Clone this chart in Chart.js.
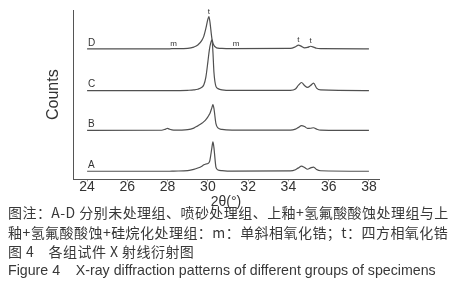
<!DOCTYPE html>
<html>
<head>
<meta charset="utf-8">
<script src="https://cdn.jsdelivr.net/npm/chart.js@4.4.1/dist/chart.umd.min.js"></script>
<style>
  html, body { margin: 0; padding: 0; background: #fff; }
  #wrap { position: relative; width: 456px; height: 300px; overflow: hidden; }
  #chart { position: absolute; left: 0; top: 0; }
  .cap { position: absolute; left: 8px; white-space: nowrap; color: #383838;
         font-family: "Noto Sans CJK SC", "Liberation Sans", sans-serif; font-size: 14px; line-height: 19px;
         letter-spacing: 0.45px; }
  .en { font-family: "Liberation Sans", Arial, sans-serif; font-size: 14.2px; letter-spacing: 0; }
</style>
</head>
<body>
<div id="wrap">
  <canvas id="chart" width="456" height="211"></canvas>
  <div class="cap" style="top:203px">图注：A-D 分别未处理组、喷砂处理组、上釉+氢氟酸酸蚀处理组与上</div>
  <div class="cap" style="top:223px">釉+氢氟酸酸蚀+硅烷化处理组：m：单斜相氧化锆；t：四方相氧化锆</div>
  <div class="cap" style="top:242px">图 4&nbsp;&nbsp;&nbsp;&nbsp;各组试件 X 射线衍射图</div>
  <div class="cap en" style="top:261px">Figure 4&nbsp;&nbsp;&nbsp;&nbsp;X-ray diffraction patterns of different groups of specimens</div>
</div>
<script>
// 2θ positions (degrees) shared by all four patterns
const twoTheta = [24, 27.7, 27.9, 28.0, 28.1, 28.3, 29.0, 29.3, 29.5, 29.7, 29.8, 29.9, 30.0, 30.05, 30.1,
                  30.2, 30.25, 30.3, 30.4, 30.5, 30.7, 31.2, 34.1, 34.35, 34.5, 34.65, 34.8, 34.95, 35.1,
                  35.25, 35.4, 35.6, 38];

// intensity above each pattern's own baseline (arbitrary counts)
const countsA = [0, 0, 0, 0, 0, 0.1, 0.4, 1.1, 1.9, 3.0, 3.8, 4.3, 4.6, 5, 6.5,
                 14, 17.3, 14, 2.5, 0.8, 0.4, 0.1, 0.2, 0.9, 2, 3, 2.2, 1.2, 2,
                 2.5, 1, 0.3, 0];
const countsB = [0, 0.1, 0.8, 1.2, 0.7, 0.2, 0.5, 1.4, 2.7, 4.2, 5.2, 6.4, 8, 9, 10,
                 13.5, 15.2, 13, 4, 1.5, 0.6, 0.2, 0.2, 0.8, 1.8, 2.8, 2.3, 1.2, 1.3,
                 1.6, 0.8, 0.2, 0];
const countsC = [0, 0, 0, 0, 0, 0, 0.2, 0.4, 0.8, 2, 3.5, 8, 17, 22, 26,
                 30, 23, 11, 2.5, 1.2, 0.5, 0.2, 0.2, 1, 3.2, 4.8, 3, 1.9, 3,
                 4.4, 1.5, 0.4, 0];
const countsD = [0, 0, 0, 0, 0, 0.1, 0.3, 1, 2.2, 5, 7.5, 12, 17.5, 19, 16,
                 6, 3.5, 2, 0.8, 0.4, 0.2, 0.1, 0.2, 1.2, 2.2, 1.4, 0.6, 0.8, 1.5,
                 1.0, 0.3, 0.1, 0];

const seriesNames = ['A', 'B', 'C', 'D'];
const seriesCounts = [countsA, countsB, countsC, countsD];
const seriesOffsets = [4.8, 28.9, 52.4, 77.1];   // vertical stacking of the patterns
const xTicks = [24, 26, 28, 30, 32, 34, 36, 38];

// phase marks on pattern D (m: monoclinic, t: tetragonal)
const phaseLabels = ['m', 't', 'm', 't', 't'];
const phaseTheta = [28.3, 30.05, 31.4, 34.5, 35.1];

const lineColor = '#505050';

const datasets = seriesNames.map((name, i) => ({
  label: name,
  data: twoTheta.map((t, j) => ({ x: t, y: seriesCounts[i][j] + seriesOffsets[i] })),
  borderColor: lineColor,
  borderWidth: 1.2,
  pointRadius: 0,
  fill: false,
  cubicInterpolationMode: 'monotone'
}));

const labelPlugin = {
  id: 'labels',
  afterDatasetsDraw(chart) {
    const { ctx, scales: { x, y } } = chart;
    ctx.save();
    ctx.fillStyle = '#333';
    ctx.textAlign = 'left';
    ctx.textBaseline = 'bottom';
    ctx.font = '10px "Liberation Sans", Arial, sans-serif';
    seriesNames.forEach((name, i) => {
      ctx.fillText(name, x.getPixelForValue(24.05), y.getPixelForValue(seriesOffsets[i]) - 1);
    });
    ctx.textAlign = 'center';
    ctx.font = '8px "Liberation Sans", Arial, sans-serif';
    phaseLabels.forEach((lab, k) => {
      const t = phaseTheta[k];
      const j = twoTheta.indexOf(t);
      const v = seriesOffsets[3] + (j >= 0 ? countsD[j] : 0);
      ctx.fillText(lab, x.getPixelForValue(t), y.getPixelForValue(v) - 1);
    });
    ctx.restore();
  }
};

new Chart(document.getElementById('chart'), {
  type: 'line',
  data: { datasets },
  plugins: [labelPlugin],
  options: {
    responsive: false,
    animation: false,
    events: [],
    layout: { padding: { left: 0, right: 77, top: 10, bottom: 0 } },
    plugins: { legend: { display: false }, tooltip: { enabled: false } },
    scales: {
      x: {
        type: 'linear',
        min: 23.3,
        max: 38.5,
        afterBuildTicks: s => { s.ticks = xTicks.map(v => ({ value: v })); },
        grid: { display: true, drawOnChartArea: false, drawTicks: true, tickLength: 2, color: '#999' },
        border: { display: true, color: '#555', width: 1 },
        ticks: { color: '#333', padding: -3, maxRotation: 0,
                 font: { family: '"Liberation Sans", Arial, sans-serif', size: 14 } },
        title: { display: true, text: '2θ(°)', color: '#333', padding: { top: 2, bottom: 0 },
                 font: { family: '"Liberation Sans", Arial, sans-serif', size: 14 } }
      },
      y: {
        min: 0,
        max: 100,
        afterFit: s => { s.width = 73; },
        grid: { display: false },
        border: { display: true, color: '#555', width: 1 },
        ticks: { display: false },
        title: { display: true, text: 'Counts', color: '#333', padding: { top: 44, bottom: 0 },
                 font: { family: '"Liberation Sans", Arial, sans-serif', size: 16 } }
      }
    }
  }
});
</script>
</body>
</html>
